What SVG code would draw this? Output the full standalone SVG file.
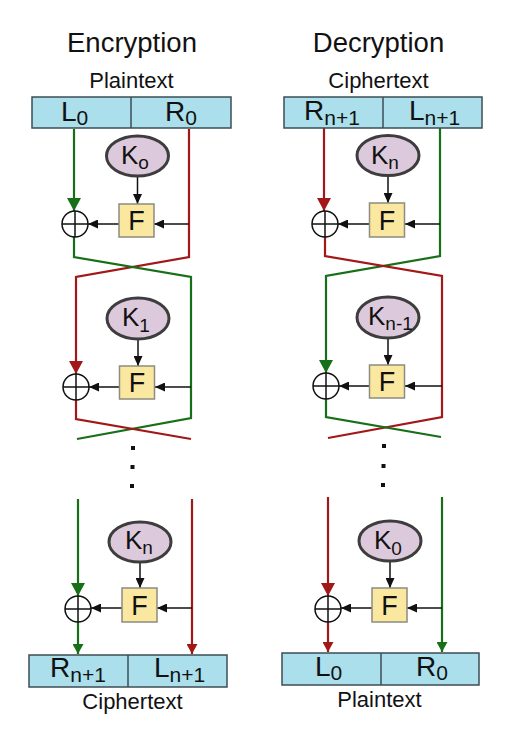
<svg xmlns="http://www.w3.org/2000/svg" width="511" height="747" viewBox="0 0 511 747">
<defs>
<style>
text{font-family:"Liberation Sans",Arial,sans-serif;fill:#111}
.title{font-size:27.5px;text-anchor:middle}
.cap{font-size:22px;text-anchor:middle}
.big{font-size:28px}
.bsub{font-size:21px}
.k{font-size:26px}
.ksub{font-size:19px}
.f{font-size:27px;text-anchor:middle}
.blk{fill:#aadfeb;stroke:#3d4d55;stroke-width:1.5}
.div{stroke:#3d4d55;stroke-width:1.5}
.key{fill:#dccadc;stroke:#3d3d3d;stroke-width:3}
.fbox{fill:#fbe8a0;stroke:#8c8c80;stroke-width:1.5}
.xor{fill:#fff;stroke:#111;stroke-width:1.5}
.g{fill:none;stroke:#177017;stroke-width:2.2}
.r{fill:none;stroke:#a21818;stroke-width:2.2}
.b{fill:none;stroke:#111;stroke-width:1.5}
.dot{fill:#111}
</style>
<marker id="ab" markerUnits="userSpaceOnUse" markerWidth="10" markerHeight="9" refX="10" refY="4.5" orient="auto"><path d="M0,0 L10,4.5 L0,9 z" fill="#111"/></marker>
<marker id="agBig" markerUnits="userSpaceOnUse" markerWidth="13" markerHeight="14" refX="13" refY="7" orient="auto"><path d="M0,0 L13,7 L0,14 z" fill="#177017"/></marker>
<marker id="arBig" markerUnits="userSpaceOnUse" markerWidth="13" markerHeight="14" refX="13" refY="7" orient="auto"><path d="M0,0 L13,7 L0,14 z" fill="#a21818"/></marker>
<marker id="ag" markerUnits="userSpaceOnUse" markerWidth="10" markerHeight="11" refX="10" refY="5.5" orient="auto"><path d="M0,0 L10,5.5 L0,11 z" fill="#177017"/></marker>
<marker id="ar" markerUnits="userSpaceOnUse" markerWidth="10" markerHeight="11" refX="10" refY="5.5" orient="auto"><path d="M0,0 L10,5.5 L0,11 z" fill="#a21818"/></marker>
</defs>

<g id="titles">
<text class="title" x="132" y="52">Encryption</text>
<text class="title" x="378.5" y="52">Decryption</text>
<text class="cap" x="131.5" y="88">Plaintext</text>
<text class="cap" x="378.5" y="88">Ciphertext</text>
<text class="cap" x="132.5" y="709">Ciphertext</text>
<text class="cap" x="379.5" y="707">Plaintext</text>
</g>

<g id="connectors">
<!-- Encryption round 1 -->
<path class="g" d="M74,129 V211" marker-end="url(#agBig)"/>
<path class="r" d="M189,129 V257 L76,277 V374" marker-end="url(#arBig)"/>
<path class="g" d="M74,237 V257 L191,277 V418 L77,439"/>
<path class="b" d="M189,224 H154" marker-end="url(#ab)"/>
<path class="b" d="M119,224 H88" marker-end="url(#ab)"/>
<path class="b" d="M137.5,176 V204" marker-end="url(#ab)"/>
<!-- Encryption round 2 -->
<path class="r" d="M76,400 V419 L191,439"/>
<path class="b" d="M191,387 H155" marker-end="url(#ab)"/>
<path class="b" d="M119,387 H89" marker-end="url(#ab)"/>
<path class="b" d="M138,339 V366" marker-end="url(#ab)"/>
<!-- Encryption round n -->
<path class="g" d="M78,499 V596" marker-end="url(#agBig)"/>
<path class="r" d="M192,499 V654" marker-end="url(#ar)"/>
<path class="g" d="M78,622 V654" marker-end="url(#ag)"/>
<path class="b" d="M192,608 H157" marker-end="url(#ab)"/>
<path class="b" d="M122,608 H91" marker-end="url(#ab)"/>
<path class="b" d="M140,562 V588" marker-end="url(#ab)"/>

<!-- Decryption round 1 -->
<path class="r" d="M324,128 V211" marker-end="url(#arBig)"/>
<path class="g" d="M440,128 V256 L326,276 V373" marker-end="url(#agBig)"/>
<path class="r" d="M325,237 V256 L442,276 V417 L328,438"/>
<path class="b" d="M440,224 H405" marker-end="url(#ab)"/>
<path class="b" d="M369,224 H338" marker-end="url(#ab)"/>
<path class="b" d="M388,175.5 V203" marker-end="url(#ab)"/>
<!-- Decryption round 2 -->
<path class="g" d="M326,399 V417 L441,437"/>
<path class="b" d="M442,386 H405" marker-end="url(#ab)"/>
<path class="b" d="M369,386 H339" marker-end="url(#ab)"/>
<path class="b" d="M388,338 V365" marker-end="url(#ab)"/>
<!-- Decryption round n -->
<path class="r" d="M328,497 V596" marker-end="url(#arBig)"/>
<path class="g" d="M442,497 V652" marker-end="url(#ag)"/>
<path class="r" d="M328,622 V652" marker-end="url(#ar)"/>
<path class="b" d="M442,608 H407" marker-end="url(#ab)"/>
<path class="b" d="M372,608 H341" marker-end="url(#ab)"/>
<path class="b" d="M390,561 V588" marker-end="url(#ab)"/>
</g>

<g id="dots">
<rect class="dot" x="131" y="446" width="4" height="4"/>
<rect class="dot" x="130.5" y="465" width="4" height="4"/>
<rect class="dot" x="130" y="484" width="4" height="4"/>
<rect class="dot" x="382" y="444" width="4" height="4"/>
<rect class="dot" x="381.5" y="464" width="4" height="4"/>
<rect class="dot" x="381" y="483" width="4" height="4"/>
</g>

<g id="enc-input">
<rect class="blk" x="32" y="97" width="199" height="31"/>
<line class="div" x1="131" y1="97" x2="131" y2="128"/>
<text class="big" x="61" y="121">L<tspan class="bsub" dy="4">0</tspan></text>
<text class="big" x="165" y="121">R<tspan class="bsub" dy="4">0</tspan></text>
</g>
<g id="dec-input">
<rect class="blk" x="284" y="97" width="198" height="31"/>
<line class="div" x1="383" y1="97" x2="383" y2="128"/>
<text class="big" x="304" y="120">R<tspan class="bsub" dy="5">n+1</tspan></text>
<text class="big" x="409" y="120">L<tspan class="bsub" dy="5">n+1</tspan></text>
</g>
<g id="enc-output">
<rect class="blk" x="29" y="655" width="198" height="32"/>
<line class="div" x1="128" y1="655" x2="128" y2="687"/>
<text class="big" x="50" y="677">R<tspan class="bsub" dy="5">n+1</tspan></text>
<text class="big" x="154" y="677">L<tspan class="bsub" dy="5">n+1</tspan></text>
</g>
<g id="dec-output">
<rect class="blk" x="282" y="653" width="197" height="32"/>
<line class="div" x1="381" y1="653" x2="381" y2="685"/>
<text class="big" x="315" y="676">L<tspan class="bsub" dy="4">0</tspan></text>
<text class="big" x="416" y="676">R<tspan class="bsub" dy="4">0</tspan></text>
</g>

<g id="enc-k0"><ellipse class="key" cx="137.5" cy="156" rx="31" ry="20"/><text class="k" x="121" y="164">K<tspan class="ksub" dy="5">o</tspan></text></g>
<g id="enc-k1"><ellipse class="key" cx="138" cy="318.5" rx="31" ry="20.5"/><text class="k" x="122" y="326">K<tspan class="ksub" dy="6">1</tspan></text></g>
<g id="enc-kn"><ellipse class="key" cx="140" cy="542" rx="31" ry="20"/><text class="k" x="125" y="549">K<tspan class="ksub" dy="5">n</tspan></text></g>
<g id="dec-kn"><ellipse class="key" cx="388" cy="155.5" rx="31" ry="20"/><text class="k" x="371" y="164">K<tspan class="ksub" dy="5">n</tspan></text></g>
<g id="dec-kn1"><ellipse class="key" cx="388" cy="317.5" rx="31" ry="20.5"/><text class="k" x="368" y="325">K<tspan class="ksub" dy="5">n-1</tspan></text></g>
<g id="dec-k0"><ellipse class="key" cx="390" cy="541" rx="31" ry="20"/><text class="k" x="374" y="549">K<tspan class="ksub" dy="6">0</tspan></text></g>

<g id="enc-f1"><rect class="fbox" x="119" y="204" width="35" height="33"/><text class="f" x="136.5" y="230">F</text></g>
<g id="enc-f2"><rect class="fbox" x="119.5" y="366" width="35" height="33"/><text class="f" x="137" y="392">F</text></g>
<g id="enc-f3"><rect class="fbox" x="122" y="588" width="35" height="34"/><text class="f" x="139.5" y="614.5">F</text></g>
<g id="dec-f1"><rect class="fbox" x="369.5" y="203" width="35" height="34"/><text class="f" x="387" y="229.5">F</text></g>
<g id="dec-f2"><rect class="fbox" x="369.5" y="365" width="35" height="33"/><text class="f" x="387" y="391">F</text></g>
<g id="dec-f3"><rect class="fbox" x="372" y="588" width="35" height="34"/><text class="f" x="389.5" y="614.5">F</text></g>

<g id="enc-x1"><circle class="xor" cx="75" cy="224" r="13"/><path class="b" d="M62,224 H88 M75,211 V237"/></g>
<g id="enc-x2"><circle class="xor" cx="76" cy="387" r="13"/><path class="b" d="M63,387 H89 M76,374 V400"/></g>
<g id="enc-x3"><circle class="xor" cx="78" cy="609" r="13"/><path class="b" d="M65,609 H91 M78,596 V622"/></g>
<g id="dec-x1"><circle class="xor" cx="325" cy="224" r="13"/><path class="b" d="M312,224 H338 M325,211 V237"/></g>
<g id="dec-x2"><circle class="xor" cx="326" cy="386" r="13"/><path class="b" d="M313,386 H339 M326,373 V399"/></g>
<g id="dec-x3"><circle class="xor" cx="328" cy="609" r="13"/><path class="b" d="M315,609 H341 M328,596 V622"/></g>
</svg>
